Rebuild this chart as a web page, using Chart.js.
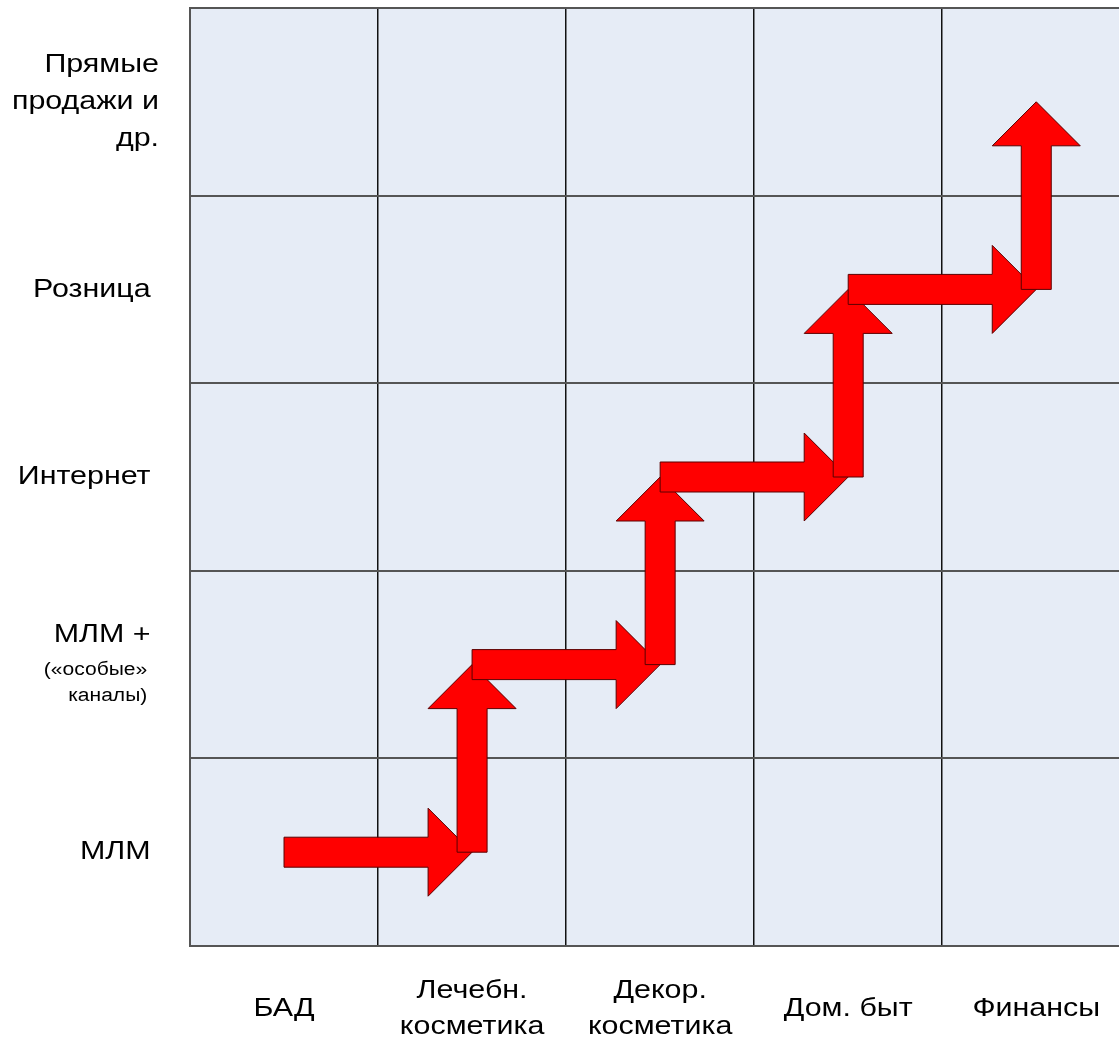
<!DOCTYPE html>
<html>
<head>
<meta charset="utf-8">
<script src="https://cdn.jsdelivr.net/npm/chart.js@4/dist/chart.umd.min.js"></script>
<style>
  html, body { margin: 0; padding: 0; background: #fff; overflow: hidden; }
  #wrap { width: 1119px; height: 1041px; position: relative; }
</style>
</head>
<body>
<div id="wrap"><canvas id="chart"></canvas></div>
<script>
// product groups along x, sales channels along y
const productLabels = [["БАД"], ["Лечебн.", "косметика"], ["Декор.", "косметика"], ["Дом. быт"], ["Финансы"]];
const channelLabels = [["МЛМ "], ["МЛМ + "], ["Интернет "], ["Розница "], ["Прямые", "продажи и", "др."]];
const channelNotes = [[], ["(«особые»  ", "каналы)  "], [], [], []];

// path of the staircase arrows (column centre, row centre)
const stepX = [0.5, 1.5, 1.5, 2.5, 2.5, 3.5, 3.5, 4.5, 4.5];
const stepY = [0.5, 0.5, 1.5, 1.5, 2.5, 2.5, 3.5, 3.5, 4.5];

const FONT = "'Liberation Sans', Arial, sans-serif";
const STRETCH = 1.17;

function stretchedText(ctx, text, x, y, size, align) {
  ctx.save();
  ctx.font = size + "px " + FONT;
  ctx.textAlign = align;
  ctx.textBaseline = "middle";
  ctx.translate(x, y);
  ctx.scale(STRETCH, 1);
  ctx.fillText(text, 0, 0);
  ctx.restore();
}

const gridBackground = {
  id: "gridBackground",
  beforeDraw(chart) {
    const { ctx, chartArea: a } = chart;
    ctx.save();
    ctx.fillStyle = "#E6ECF6";
    ctx.fillRect(a.left, a.top, a.right - a.left, a.bottom - a.top);
    ctx.restore();
  }
};

const arrows = {
  id: "arrows",
  afterDatasetsDraw(chart) {
    const ctx = chart.ctx;
    const pts = chart.getDatasetMeta(0).data;
    const sw = 15, hw = 44, hl = 44;
    for (let i = 0; i < pts.length - 1; i++) {
      const p0 = pts[i], p1 = pts[i + 1];
      const dx = p1.x - p0.x, dy = p1.y - p0.y;
      const len = Math.hypot(dx, dy);
      const ux = dx / len, uy = dy / len;
      const nx = -uy, ny = ux;
      const bx = p1.x - ux * hl, by = p1.y - uy * hl;
      ctx.save();
      ctx.beginPath();
      ctx.moveTo(p0.x + nx * sw, p0.y + ny * sw);
      ctx.lineTo(bx + nx * sw, by + ny * sw);
      ctx.lineTo(bx + nx * hw, by + ny * hw);
      ctx.lineTo(p1.x, p1.y);
      ctx.lineTo(bx - nx * hw, by - ny * hw);
      ctx.lineTo(bx - nx * sw, by - ny * sw);
      ctx.lineTo(p0.x - nx * sw, p0.y - ny * sw);
      ctx.closePath();
      ctx.fillStyle = "#FF0000";
      ctx.fill();
      ctx.lineWidth = 1;
      ctx.strokeStyle = "#5A0000";
      ctx.stroke();
      ctx.restore();
    }
  }
};

const axisLabels = {
  id: "axisLabels",
  afterDraw(chart) {
    const { ctx, scales } = chart;
    ctx.save();
    ctx.fillStyle = "#000";
    // x labels
    productLabels.forEach((lines, i) => {
      const cx = scales.x.getPixelForValue(i + 0.5);
      const lh = 36;
      const cy = 1009;
      const top = cy - (lines.length - 1) * lh / 2;
      lines.forEach((t, k) => stretchedText(ctx, t, cx, top + k * lh, 26, "center"));
    });
    // y labels
    const rx = 159;
    channelLabels.forEach((lines, i) => {
      const cy = scales.y.getPixelForValue(i + 0.5);
      const notes = channelNotes[i];
      if (notes.length) {
        stretchedText(ctx, lines[0], rx, cy - 30, 26, "right");
        notes.forEach((t, k) => stretchedText(ctx, t, rx, cy + 5 + k * 26, 18, "right"));
      } else {
        const lh = 37;
        const top = cy - (lines.length - 1) * lh / 2;
        lines.forEach((t, k) => stretchedText(ctx, t, rx, top + k * lh, 26, "right"));
      }
    });
    ctx.restore();
  }
};

new Chart(document.getElementById("chart"), {
  type: "line",
  data: {
    datasets: [{
      data: stepX.map((x, i) => ({ x: x, y: stepY[i] })),
      showLine: false,
      pointRadius: 0,
      pointHoverRadius: 0
    }]
  },
  options: {
    responsive: true,
    maintainAspectRatio: false,
    animation: false,
    events: [],
    layout: { padding: { left: 190, top: 8, right: 0, bottom: 95 } },
    plugins: { legend: { display: false }, tooltip: { enabled: false } },
    scales: {
      x: {
        type: "linear",
        min: 0,
        max: 4.94,
        afterBuildTicks: s => { s.ticks = [0, 1, 2, 3, 4].map(v => ({ value: v })); },
        ticks: { display: false },
        grid: { color: "#111", lineWidth: 1.5, drawTicks: false },
        border: { color: "#555", width: 2 }
      },
      y: {
        type: "linear",
        min: 0,
        max: 5,
        afterBuildTicks: s => { s.ticks = [0, 1, 2, 3, 4, 5].map(v => ({ value: v })); },
        ticks: { display: false },
        grid: { color: "#555", lineWidth: 2, drawTicks: false },
        border: { color: "#555", width: 2 }
      }
    }
  },
  plugins: [gridBackground, arrows, axisLabels]
});
</script>
</body>
</html>
